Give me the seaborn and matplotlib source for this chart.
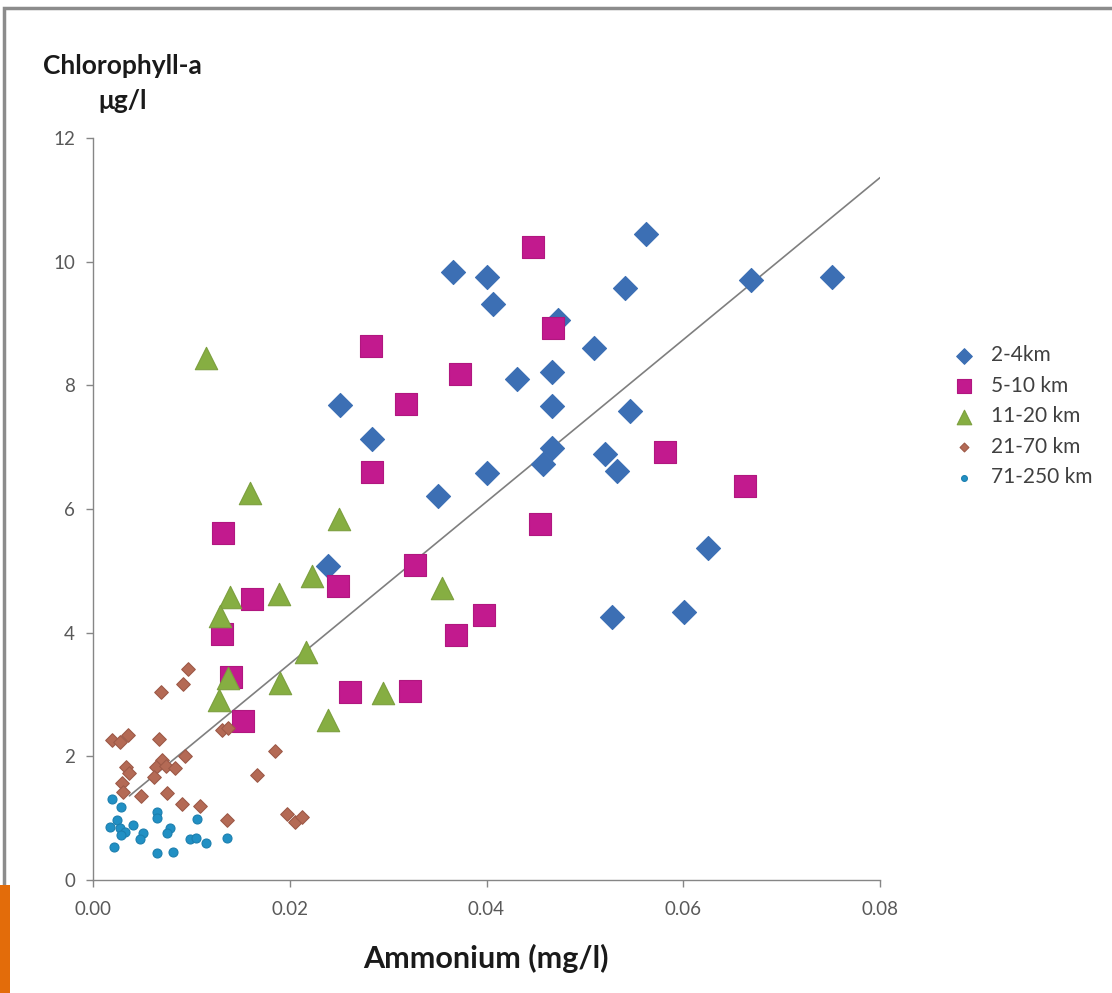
import numpy as np
import pandas as pd
import matplotlib
matplotlib.use('Agg')
import matplotlib.pyplot as plt
import seaborn as sns
from matplotlib.patches import Rectangle

# data: ammonium (mg/l) vs chlorophyll-a (ug/l)
x_2_4 = [0.0366, 0.0401, 0.0407, 0.0473, 0.0562, 0.0541, 0.0669, 0.0751, 0.0509,
         0.0431, 0.0467, 0.0251, 0.0467, 0.0284, 0.0546, 0.0467, 0.0457, 0.0520,
         0.0400, 0.0533, 0.0351, 0.0239, 0.0625, 0.0601, 0.0528]
y_2_4 = [9.84, 9.76, 9.32, 9.06, 10.45, 9.58, 9.71, 9.76, 8.61,
         8.11, 8.22, 7.69, 7.67, 7.14, 7.59, 6.99, 6.73, 6.89,
         6.59, 6.62, 6.21, 5.08, 5.37, 4.34, 4.26]

x_5_10 = [0.0447, 0.0283, 0.0373, 0.0468, 0.0318, 0.0284, 0.0581, 0.0663, 0.0454,
          0.0132, 0.0327, 0.0249, 0.0162, 0.0131, 0.0369, 0.0397, 0.0140, 0.0152,
          0.0261, 0.0322]
y_5_10 = [10.24, 8.64, 8.19, 8.93, 7.70, 6.60, 6.93, 6.38, 5.76,
          5.61, 5.10, 4.76, 4.55, 3.98, 3.96, 4.29, 3.28, 2.57,
          3.04, 3.06]

x_11_20 = [0.0115, 0.0160, 0.0250, 0.0223, 0.0189, 0.0139, 0.0129, 0.0355, 0.0217,
           0.0190, 0.0137, 0.0128, 0.0295, 0.0239]
y_11_20 = [8.45, 6.26, 5.84, 4.92, 4.63, 4.58, 4.27, 4.72, 3.69,
           3.19, 3.27, 2.91, 3.03, 2.59]

x_21_70 = [0.0097, 0.0092, 0.0069, 0.0131, 0.0137, 0.0019, 0.0027, 0.0036, 0.0067,
           0.0185, 0.0094, 0.0034, 0.0037, 0.0070, 0.0064, 0.0074, 0.0083, 0.0062,
           0.0167, 0.0030, 0.0031, 0.0049, 0.0075, 0.0090, 0.0109, 0.0136, 0.0197,
           0.0205, 0.0212]
y_21_70 = [3.41, 3.17, 3.04, 2.43, 2.46, 2.27, 2.23, 2.35, 2.28,
           2.09, 2.00, 1.83, 1.73, 1.94, 1.83, 1.84, 1.81, 1.67,
           1.70, 1.57, 1.43, 1.36, 1.41, 1.23, 1.20, 0.97, 1.07,
           0.94, 1.02]

x_71_250 = [0.0019, 0.0029, 0.0065, 0.0065, 0.0024, 0.0017, 0.0027, 0.0033, 0.0041,
            0.0029, 0.0078, 0.0075, 0.0051, 0.0048, 0.0106, 0.0099, 0.0105, 0.0115,
            0.0136, 0.0021, 0.0065, 0.0081]
y_71_250 = [1.31, 1.18, 1.10, 1.00, 0.97, 0.86, 0.84, 0.78, 0.89,
            0.73, 0.84, 0.76, 0.76, 0.66, 0.98, 0.66, 0.68, 0.60,
            0.68, 0.53, 0.44, 0.45]

groups = ['2-4km', '5-10 km', '11-20 km', '21-70 km', '71-250 km']

# linear trend line (start / end of the drawn segment)
trend_x = [0.0037, 0.080]
trend_y = [1.36, 11.36]

# Excel-ish look
sns.set_style('white')
plt.rcParams['font.family'] = ['Lato', 'DejaVu Sans']

df = pd.concat([
    pd.DataFrame({'x': x_2_4, 'y': y_2_4, 'group': groups[0]}),
    pd.DataFrame({'x': x_5_10, 'y': y_5_10, 'group': groups[1]}),
    pd.DataFrame({'x': x_11_20, 'y': y_11_20, 'group': groups[2]}),
    pd.DataFrame({'x': x_21_70, 'y': y_21_70, 'group': groups[3]}),
    pd.DataFrame({'x': x_71_250, 'y': y_71_250, 'group': groups[4]}),
], ignore_index=True)

styles = {
    '2-4km':     dict(marker='D', s=150, color='#3C6FB4', edge='#3C6FB4'),
    '5-10 km':   dict(marker='s', s=230, color='#C21A8E', edge='#B0177F'),
    '11-20 km':  dict(marker='^', s=260, color='#86AE42', edge='#7C9F3E'),
    '21-70 km':  dict(marker='D', s=48, color='#B46A55', edge='#9E5A48'),
    '71-250 km': dict(marker='o', s=42, color='#2190C4', edge='#1C7FAF'),
}

fig = plt.figure(figsize=(11.12, 9.93), dpi=100)
ax = fig.add_axes([0.0836, 0.1138, 0.7078, 0.7472])

for g in groups:
    st = styles[g]
    sns.scatterplot(data=df[df['group'] == g], x='x', y='y', marker=st['marker'],
                    s=st['s'], color=st['color'], edgecolor=st['edge'], linewidth=0.8,
                    label=g, ax=ax, zorder=3)

ax.plot(trend_x, trend_y, color='#7F7F7F', lw=1.2, zorder=2)

ax.set_xlim(0, 0.08)
ax.set_ylim(0, 12)
ax.set_xticks(np.arange(0, 0.081, 0.02))
ax.set_xticklabels([f'{v:.2f}' for v in np.arange(0, 0.081, 0.02)])
ax.set_yticks(range(0, 13, 2))
ax.set_xlabel('')
ax.set_ylabel('')

for side in ['top', 'right']:
    ax.spines[side].set_visible(False)
for side in ['left', 'bottom']:
    ax.spines[side].set_color('#868686')
    ax.spines[side].set_linewidth(1.0)
ax.tick_params(axis='both', direction='out', length=5, width=1.0, color='#868686',
               labelcolor='#595959', labelsize=13.5, left=True, bottom=True)
ax.tick_params(axis='x', pad=10)
ax.tick_params(axis='y', pad=8)

# axis titles as in the original (y title sits above the axis)
fig.text(0.110, 0.934, 'Chlorophyll-a', ha='center', va='center',
         fontsize=19, fontweight='bold', color='#1a1a1a')
fig.text(0.110, 0.898, 'μg/l', ha='center', va='center',
         fontsize=19, fontweight='bold', color='#1a1a1a')
fig.text(0.437, 0.035, 'Ammonium (mg/l)', ha='center', va='center',
         fontsize=22, fontweight='bold', color='#1a1a1a')

leg = ax.legend(loc='center left', bbox_to_anchor=(1.07, 0.625), frameon=False,
                fontsize=15, handletextpad=0.3, labelspacing=0.5,
                markerscale=0.65, borderaxespad=0)
for t in leg.get_texts():
    t.set_color('#404040')

# slide frame and the orange accent bar
fig.patches.append(Rectangle((0.004, -0.01), 1.1, 1.002, transform=fig.transFigure,
                             fill=False, edgecolor='#8c8c8c', lw=2.5))
fig.patches.append(Rectangle((0, 0), 0.009, 0.109, transform=fig.transFigure,
                             facecolor='#E36C0A', edgecolor='none'))

fig.savefig('out.png', dpi=100)
